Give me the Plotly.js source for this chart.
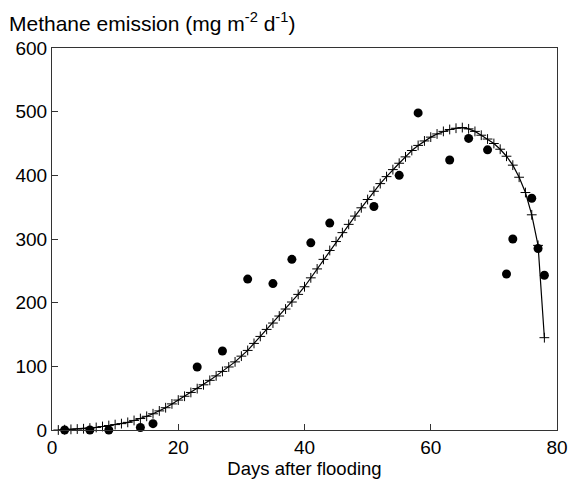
<!DOCTYPE html>
<html>
<head>
<meta charset="utf-8">
<script src="https://cdn.plot.ly/plotly-3.0.1.min.js"></script>
<style>html,body{margin:0;padding:0;background:#fff;}#chart{width:574px;height:486px;}</style>
</head>
<body>
<div id="chart"></div>
<script>
// Observed methane emission (dots)
const obsDays = [2, 6, 9, 14, 16, 23, 27, 31, 35, 38, 41, 44, 51, 55, 58, 63, 66, 69, 72, 73, 76, 77, 78];
const obsEmission = [0, 0, 0, 4, 10, 99, 124, 237, 230, 268, 294, 325, 351, 400, 498, 424, 458, 440, 245, 300, 364, 285, 243];

// Simulated methane emission (line with + markers)
const simDays = [1, 2, 3, 4, 5, 6, 7, 8, 9, 10, 11, 12, 13, 14, 15, 16, 17, 18, 19, 20,
  21, 22, 23, 24, 25, 26, 27, 28, 29, 30, 31, 32, 33, 34, 35, 36, 37, 38, 39, 40,
  41, 42, 43, 44, 45, 46, 47, 48, 49, 50, 51, 52, 53, 54, 55, 56, 57, 58, 59, 60,
  61, 62, 63, 64, 65, 66, 67, 68, 69, 70, 71, 72, 73, 74, 75, 76, 77, 78];
const simEmission = [0, 0.5, 1, 1.5, 2, 3, 4, 5.5, 7, 8.5, 10, 12, 15, 18, 21.5, 25.5, 30, 35, 41, 47,
  53, 59, 65, 71, 78, 85, 92, 99, 107, 116, 125, 136, 147, 158, 168, 179, 190, 201, 213, 225,
  239, 253, 268, 282, 296, 310, 323, 336, 349, 362, 375, 387, 398, 409, 419, 429, 439, 447, 454, 460,
  465, 469, 472, 474, 475, 473, 469, 463, 457, 450, 441, 430, 416, 397, 373, 338, 290, 145];

const xTicks = [0, 20, 40, 60, 80];
const yTicks = [0, 100, 200, 300, 400, 500, 600];

const FONT = 'Liberation Sans, Arial, Helvetica, sans-serif';

const traces = [
  {
    x: simDays, y: simEmission, type: 'scatter', mode: 'lines+markers',
    line: {color: '#000', width: 1.2},
    marker: {symbol: 'cross-thin', size: 7, color: '#000', line: {color: '#000', width: 1}},
    cliponaxis: false, showlegend: false, hoverinfo: 'skip'
  },
  {
    x: obsDays, y: obsEmission, type: 'scatter', mode: 'markers',
    marker: {symbol: 'circle', size: 9, color: '#000'},
    cliponaxis: false, showlegend: false, hoverinfo: 'skip'
  }
];

const layout = {
  width: 574, height: 486,
  margin: {l: 51.7, r: 16.5, t: 47.5, b: 55.5},
  paper_bgcolor: '#fff', plot_bgcolor: '#fff',
  font: {family: FONT, size: 19, color: '#000'},
  showlegend: false,
  xaxis: {
    range: [0, 80], tickvals: xTicks, ticktext: xTicks.map(String),
    ticks: 'inside', ticklen: 6, tickwidth: 1, tickcolor: '#333',
    showline: true, linecolor: '#333', linewidth: 1, mirror: true,
    showgrid: false, zeroline: false,
    tickfont: {family: FONT, size: 19, color: '#000'},
    title: {text: 'Days after flooding', font: {family: FONT, size: 18.5, color: '#000'}, standoff: 2}
  },
  yaxis: {
    range: [0, 600], tickvals: yTicks, ticktext: yTicks.map(String),
    ticks: 'inside', ticklen: 6, tickwidth: 1, tickcolor: '#333',
    showline: true, linecolor: '#333', linewidth: 1, mirror: true,
    showgrid: false, zeroline: false,
    tickfont: {family: FONT, size: 19, color: '#000'}
  },
  annotations: [{
    text: 'Methane emission (mg m<sup>-2</sup> d<sup>-1</sup>)',
    xref: 'paper', yref: 'paper', x: 0, y: 1, xanchor: 'left', yanchor: 'bottom',
    xshift: -45, yshift: 11, showarrow: false,
    font: {family: FONT, size: 21, color: '#000'}
  }]
};

Plotly.newPlot('chart', traces, layout, {displayModeBar: false, staticPlot: true});
</script>
</body>
</html>
